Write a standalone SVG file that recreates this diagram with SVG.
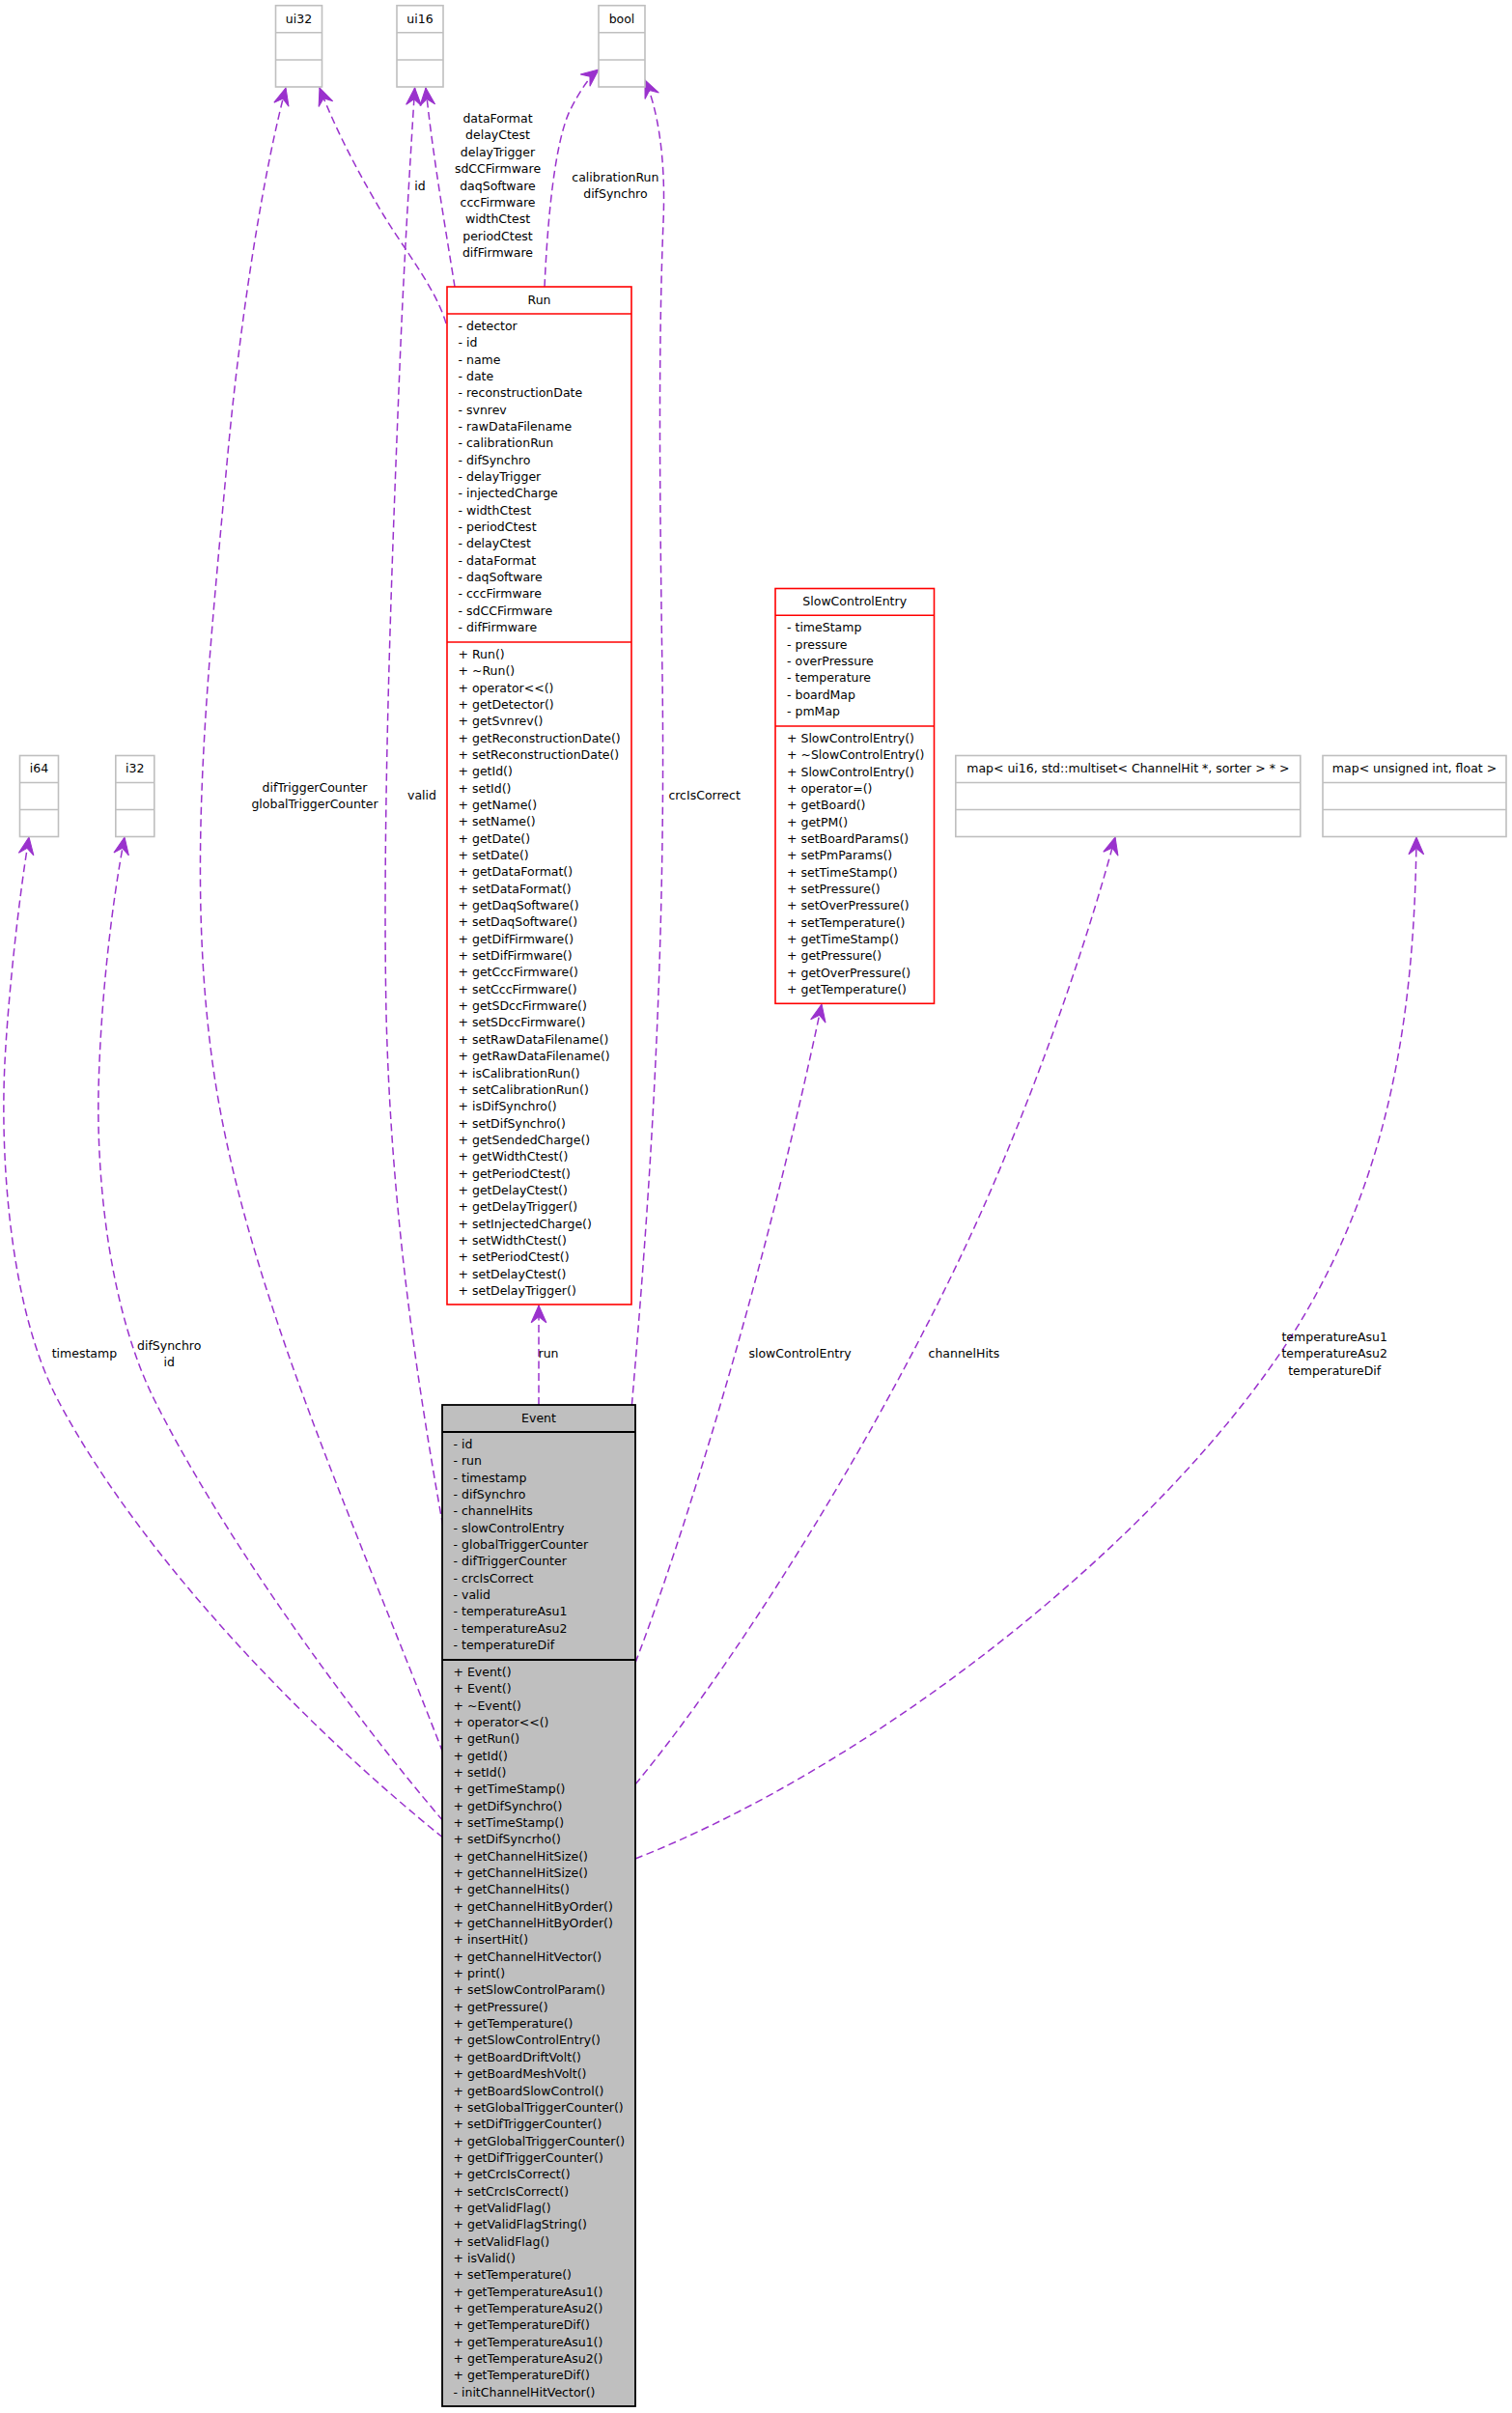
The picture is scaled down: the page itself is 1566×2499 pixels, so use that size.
<svg xmlns="http://www.w3.org/2000/svg" width="1566" height="2499" viewBox="0 0 1566 2499">
<style>
text{font-family:"DejaVu Sans","Liberation Sans",sans-serif;font-size:12.5px;fill:#000}
.c{text-anchor:middle}
.grey rect,.grey line{fill:#fff;stroke:#bfbfbf;stroke-width:1.6}
.red rect{fill:#fff;stroke:#ff0000;stroke-width:1.6}
.red line{stroke:#ff0000;stroke-width:1.6}
.main rect{fill:#bfbfbf;stroke:#000;stroke-width:1.8}
.main line{stroke:#000;stroke-width:1.8}
.e{fill:none;stroke:#9a32cd;stroke-width:1.5;stroke-dasharray:8,4.5;marker-end:url(#vee)}
</style>
<defs>
<marker id="vee" markerUnits="userSpaceOnUse" markerWidth="22" markerHeight="22" viewBox="-19 -10 21 20" refX="0" refY="0" orient="auto">
<path d="M0,0 L-17,-7.5 L-11,0 L-17,7.5 Z" fill="#9a32cd" stroke="#9a32cd" stroke-width="1"/>
</marker>
</defs>
<rect width="1566" height="2499" fill="#fff"/>

<g id="connectors">
<path class="e" d="M458.7,1815 C360,1560 250,1320 220,1100 C193,902 215,700 235,480 C250,315 275,170 296,91"/>
<path class="e" d="M462,335 C452,300 420,260 398,224 C375,186 350,140 331,91"/>
<path class="e" d="M458.7,1580 C430,1420 405,1250 400,1050 C396,850 405,600 414,380 C418,280 424,180 429.6,91"/>
<path class="e" d="M471,297 C462,240 448,160 441,91"/>
<path class="e" d="M564,297 C567,230 574,150 590,115 C600,95 610,80 620,72"/>
<path class="e" d="M654.4,1455 C672,1250 690,1000 686,700 C683,500 682,350 687,230 C690,160 680,110 668,83"/>
<path class="e" d="M558,1455 L558,1352"/>
<path class="e" d="M458.7,1903 C330,1800 150,1620 60,1450 C10,1355 0,1200 5,1100 C8,1040 18,940 30,867"/>
<path class="e" d="M458.7,1885.6 C360,1770 230,1590 160,1450 C115,1360 100,1230 102,1130 C104,1040 115,940 129,867"/>
<path class="e" d="M658,1722 C705,1600 790,1330 851,1040"/>
<path class="e" d="M658,1848 C780,1700 950,1420 1040,1200 C1090,1080 1130,960 1155,867"/>
<path class="e" d="M658,1925 C900,1830 1200,1600 1340,1380 C1440,1220 1465,1050 1467,867"/>
<text class="c" x="326" y="820">difTriggerCounter</text>
<text class="c" x="326" y="837.2">globalTriggerCounter</text>
<text class="c" x="435" y="197.3">id</text>
<text class="c" x="437" y="828.3">valid</text>
<text class="c"><tspan x="515.5" y="127">dataFormat</tspan><tspan x="515.5" dy="17.4">delayCtest</tspan><tspan x="515.5" dy="17.4">delayTrigger</tspan><tspan x="515.5" dy="17.4">sdCCFirmware</tspan><tspan x="515.5" dy="17.4">daqSoftware</tspan><tspan x="515.5" dy="17.4">cccFirmware</tspan><tspan x="515.5" dy="17.4">widthCtest</tspan><tspan x="515.5" dy="17.4">periodCtest</tspan><tspan x="515.5" dy="17.4">difFirmware</tspan></text>
<text class="c" x="637.4" y="188.4">calibrationRun</text>
<text class="c" x="637.4" y="205.2">difSynchro</text>
<text class="c" x="729.6" y="828.3">crcIsCorrect</text>
<text class="c" x="568" y="1406.1">run</text>
<text class="c" x="87.4" y="1406.1">timestamp</text>
<text class="c" x="175.2" y="1397.5">difSynchro</text>
<text class="c" x="175.2" y="1415.2">id</text>
<text class="c" x="828.6" y="1406.4">slowControlEntry</text>
<text class="c" x="998.4" y="1406.4">channelHits</text>
<text class="c" x="1382.2" y="1389.1">temperatureAsu1</text>
<text class="c" x="1382.2" y="1406.4">temperatureAsu2</text>
<text class="c" x="1382.2" y="1423.6">temperatureDif</text>
</g>

<g id="node-ui32" class="grey">
<rect x="285.5" y="5.7" width="48" height="84.3"/>
<line x1="285.5" y1="33.8" x2="333.5" y2="33.8"/><line x1="285.5" y1="62" x2="333.5" y2="62"/>
<text class="c" x="309.5" y="23.5">ui32</text>
</g>
<g id="node-ui16" class="grey">
<rect x="411" y="5.7" width="48" height="84.3"/>
<line x1="411" y1="33.8" x2="459" y2="33.8"/><line x1="411" y1="62" x2="459" y2="62"/>
<text class="c" x="435" y="23.5">ui16</text>
</g>
<g id="node-bool" class="grey">
<rect x="620" y="5.7" width="48" height="84.3"/>
<line x1="620" y1="33.8" x2="668" y2="33.8"/><line x1="620" y1="62" x2="668" y2="62"/>
<text class="c" x="644" y="23.5">bool</text>
</g>
<g id="node-i64" class="grey">
<rect x="20.5" y="782.5" width="40" height="84"/>
<line x1="20.5" y1="810.5" x2="60.5" y2="810.5"/><line x1="20.5" y1="838.5" x2="60.5" y2="838.5"/>
<text class="c" x="40.5" y="800">i64</text>
</g>
<g id="node-i32" class="grey">
<rect x="119.8" y="782.5" width="40" height="84"/>
<line x1="119.8" y1="810.5" x2="159.8" y2="810.5"/><line x1="119.8" y1="838.5" x2="159.8" y2="838.5"/>
<text class="c" x="139.8" y="800">i32</text>
</g>
<g id="node-map-channelhits" class="grey">
<rect x="989.8" y="782.5" width="357" height="84"/>
<line x1="989.8" y1="810.5" x2="1346.8" y2="810.5"/><line x1="989.8" y1="838.5" x2="1346.8" y2="838.5"/>
<text class="c" x="1168.3" y="800">map&lt; ui16, std::multiset&lt; ChannelHit *, sorter &gt; * &gt;</text>
</g>
<g id="node-map-temperature" class="grey">
<rect x="1370" y="782.5" width="190" height="84"/>
<line x1="1370" y1="810.5" x2="1560" y2="810.5"/><line x1="1370" y1="838.5" x2="1560" y2="838.5"/>
<text class="c" x="1465" y="800">map&lt; unsigned int, float &gt;</text>
</g>

<g id="node-Run" class="red">
<rect x="463" y="297" width="191" height="1054"/>
<line x1="463" y1="325" x2="654" y2="325"/><line x1="463" y1="665" x2="654" y2="665"/>
<text class="c" x="558.5" y="314.5">Run</text>
<text><tspan x="474.5" y="342">- detector</tspan><tspan x="474.5" dy="17.34">- id</tspan><tspan x="474.5" dy="17.34">- name</tspan><tspan x="474.5" dy="17.34">- date</tspan><tspan x="474.5" dy="17.34">- reconstructionDate</tspan><tspan x="474.5" dy="17.34">- svnrev</tspan><tspan x="474.5" dy="17.34">- rawDataFilename</tspan><tspan x="474.5" dy="17.34">- calibrationRun</tspan><tspan x="474.5" dy="17.34">- difSynchro</tspan><tspan x="474.5" dy="17.34">- delayTrigger</tspan><tspan x="474.5" dy="17.34">- injectedCharge</tspan><tspan x="474.5" dy="17.34">- widthCtest</tspan><tspan x="474.5" dy="17.34">- periodCtest</tspan><tspan x="474.5" dy="17.34">- delayCtest</tspan><tspan x="474.5" dy="17.34">- dataFormat</tspan><tspan x="474.5" dy="17.34">- daqSoftware</tspan><tspan x="474.5" dy="17.34">- cccFirmware</tspan><tspan x="474.5" dy="17.34">- sdCCFirmware</tspan><tspan x="474.5" dy="17.34">- difFirmware</tspan></text>
<text><tspan x="474.5" y="682">+ Run()</tspan><tspan x="474.5" dy="17.34">+ ~Run()</tspan><tspan x="474.5" dy="17.34">+ operator&lt;&lt;()</tspan><tspan x="474.5" dy="17.34">+ getDetector()</tspan><tspan x="474.5" dy="17.34">+ getSvnrev()</tspan><tspan x="474.5" dy="17.34">+ getReconstructionDate()</tspan><tspan x="474.5" dy="17.34">+ setReconstructionDate()</tspan><tspan x="474.5" dy="17.34">+ getId()</tspan><tspan x="474.5" dy="17.34">+ setId()</tspan><tspan x="474.5" dy="17.34">+ getName()</tspan><tspan x="474.5" dy="17.34">+ setName()</tspan><tspan x="474.5" dy="17.34">+ getDate()</tspan><tspan x="474.5" dy="17.34">+ setDate()</tspan><tspan x="474.5" dy="17.34">+ getDataFormat()</tspan><tspan x="474.5" dy="17.34">+ setDataFormat()</tspan><tspan x="474.5" dy="17.34">+ getDaqSoftware()</tspan><tspan x="474.5" dy="17.34">+ setDaqSoftware()</tspan><tspan x="474.5" dy="17.34">+ getDifFirmware()</tspan><tspan x="474.5" dy="17.34">+ setDifFirmware()</tspan><tspan x="474.5" dy="17.34">+ getCccFirmware()</tspan><tspan x="474.5" dy="17.34">+ setCccFirmware()</tspan><tspan x="474.5" dy="17.34">+ getSDccFirmware()</tspan><tspan x="474.5" dy="17.34">+ setSDccFirmware()</tspan><tspan x="474.5" dy="17.34">+ setRawDataFilename()</tspan><tspan x="474.5" dy="17.34">+ getRawDataFilename()</tspan><tspan x="474.5" dy="17.34">+ isCalibrationRun()</tspan><tspan x="474.5" dy="17.34">+ setCalibrationRun()</tspan><tspan x="474.5" dy="17.34">+ isDifSynchro()</tspan><tspan x="474.5" dy="17.34">+ setDifSynchro()</tspan><tspan x="474.5" dy="17.34">+ getSendedCharge()</tspan><tspan x="474.5" dy="17.34">+ getWidthCtest()</tspan><tspan x="474.5" dy="17.34">+ getPeriodCtest()</tspan><tspan x="474.5" dy="17.34">+ getDelayCtest()</tspan><tspan x="474.5" dy="17.34">+ getDelayTrigger()</tspan><tspan x="474.5" dy="17.34">+ setInjectedCharge()</tspan><tspan x="474.5" dy="17.34">+ setWidthCtest()</tspan><tspan x="474.5" dy="17.34">+ setPeriodCtest()</tspan><tspan x="474.5" dy="17.34">+ setDelayCtest()</tspan><tspan x="474.5" dy="17.34">+ setDelayTrigger()</tspan></text>
</g>

<g id="node-SlowControlEntry" class="red">
<rect x="803" y="609.5" width="164.5" height="429.8"/>
<line x1="803" y1="637.3" x2="967.5" y2="637.3"/><line x1="803" y1="752" x2="967.5" y2="752"/>
<text class="c" x="885.2" y="627">SlowControlEntry</text>
<text><tspan x="815" y="654.3">- timeStamp</tspan><tspan x="815" dy="17.34">- pressure</tspan><tspan x="815" dy="17.34">- overPressure</tspan><tspan x="815" dy="17.34">- temperature</tspan><tspan x="815" dy="17.34">- boardMap</tspan><tspan x="815" dy="17.34">- pmMap</tspan></text>
<text><tspan x="815" y="769">+ SlowControlEntry()</tspan><tspan x="815" dy="17.34">+ ~SlowControlEntry()</tspan><tspan x="815" dy="17.34">+ SlowControlEntry()</tspan><tspan x="815" dy="17.34">+ operator=()</tspan><tspan x="815" dy="17.34">+ getBoard()</tspan><tspan x="815" dy="17.34">+ getPM()</tspan><tspan x="815" dy="17.34">+ setBoardParams()</tspan><tspan x="815" dy="17.34">+ setPmParams()</tspan><tspan x="815" dy="17.34">+ setTimeStamp()</tspan><tspan x="815" dy="17.34">+ setPressure()</tspan><tspan x="815" dy="17.34">+ setOverPressure()</tspan><tspan x="815" dy="17.34">+ setTemperature()</tspan><tspan x="815" dy="17.34">+ getTimeStamp()</tspan><tspan x="815" dy="17.34">+ getPressure()</tspan><tspan x="815" dy="17.34">+ getOverPressure()</tspan><tspan x="815" dy="17.34">+ getTemperature()</tspan></text>
</g>

<g id="node-Event" class="main">
<rect x="458" y="1455" width="200" height="1037"/>
<line x1="458" y1="1483" x2="658" y2="1483"/><line x1="458" y1="1719" x2="658" y2="1719"/>
<text class="c" x="558" y="1472.5">Event</text>
<text><tspan x="469.5" y="1500">- id</tspan><tspan x="469.5" dy="17.34">- run</tspan><tspan x="469.5" dy="17.34">- timestamp</tspan><tspan x="469.5" dy="17.34">- difSynchro</tspan><tspan x="469.5" dy="17.34">- channelHits</tspan><tspan x="469.5" dy="17.34">- slowControlEntry</tspan><tspan x="469.5" dy="17.34">- globalTriggerCounter</tspan><tspan x="469.5" dy="17.34">- difTriggerCounter</tspan><tspan x="469.5" dy="17.34">- crcIsCorrect</tspan><tspan x="469.5" dy="17.34">- valid</tspan><tspan x="469.5" dy="17.34">- temperatureAsu1</tspan><tspan x="469.5" dy="17.34">- temperatureAsu2</tspan><tspan x="469.5" dy="17.34">- temperatureDif</tspan></text>
<text><tspan x="469.5" y="1736">+ Event()</tspan><tspan x="469.5" dy="17.34">+ Event()</tspan><tspan x="469.5" dy="17.34">+ ~Event()</tspan><tspan x="469.5" dy="17.34">+ operator&lt;&lt;()</tspan><tspan x="469.5" dy="17.34">+ getRun()</tspan><tspan x="469.5" dy="17.34">+ getId()</tspan><tspan x="469.5" dy="17.34">+ setId()</tspan><tspan x="469.5" dy="17.34">+ getTimeStamp()</tspan><tspan x="469.5" dy="17.34">+ getDifSynchro()</tspan><tspan x="469.5" dy="17.34">+ setTimeStamp()</tspan><tspan x="469.5" dy="17.34">+ setDifSyncrho()</tspan><tspan x="469.5" dy="17.34">+ getChannelHitSize()</tspan><tspan x="469.5" dy="17.34">+ getChannelHitSize()</tspan><tspan x="469.5" dy="17.34">+ getChannelHits()</tspan><tspan x="469.5" dy="17.34">+ getChannelHitByOrder()</tspan><tspan x="469.5" dy="17.34">+ getChannelHitByOrder()</tspan><tspan x="469.5" dy="17.34">+ insertHit()</tspan><tspan x="469.5" dy="17.34">+ getChannelHitVector()</tspan><tspan x="469.5" dy="17.34">+ print()</tspan><tspan x="469.5" dy="17.34">+ setSlowControlParam()</tspan><tspan x="469.5" dy="17.34">+ getPressure()</tspan><tspan x="469.5" dy="17.34">+ getTemperature()</tspan><tspan x="469.5" dy="17.34">+ getSlowControlEntry()</tspan><tspan x="469.5" dy="17.34">+ getBoardDriftVolt()</tspan><tspan x="469.5" dy="17.34">+ getBoardMeshVolt()</tspan><tspan x="469.5" dy="17.34">+ getBoardSlowControl()</tspan><tspan x="469.5" dy="17.34">+ setGlobalTriggerCounter()</tspan><tspan x="469.5" dy="17.34">+ setDifTriggerCounter()</tspan><tspan x="469.5" dy="17.34">+ getGlobalTriggerCounter()</tspan><tspan x="469.5" dy="17.34">+ getDifTriggerCounter()</tspan><tspan x="469.5" dy="17.34">+ getCrcIsCorrect()</tspan><tspan x="469.5" dy="17.34">+ setCrcIsCorrect()</tspan><tspan x="469.5" dy="17.34">+ getValidFlag()</tspan><tspan x="469.5" dy="17.34">+ getValidFlagString()</tspan><tspan x="469.5" dy="17.34">+ setValidFlag()</tspan><tspan x="469.5" dy="17.34">+ isValid()</tspan><tspan x="469.5" dy="17.34">+ setTemperature()</tspan><tspan x="469.5" dy="17.34">+ getTemperatureAsu1()</tspan><tspan x="469.5" dy="17.34">+ getTemperatureAsu2()</tspan><tspan x="469.5" dy="17.34">+ getTemperatureDif()</tspan><tspan x="469.5" dy="17.34">+ getTemperatureAsu1()</tspan><tspan x="469.5" dy="17.34">+ getTemperatureAsu2()</tspan><tspan x="469.5" dy="17.34">+ getTemperatureDif()</tspan><tspan x="469.5" dy="17.34">- initChannelHitVector()</tspan></text>
</g>
</svg>
